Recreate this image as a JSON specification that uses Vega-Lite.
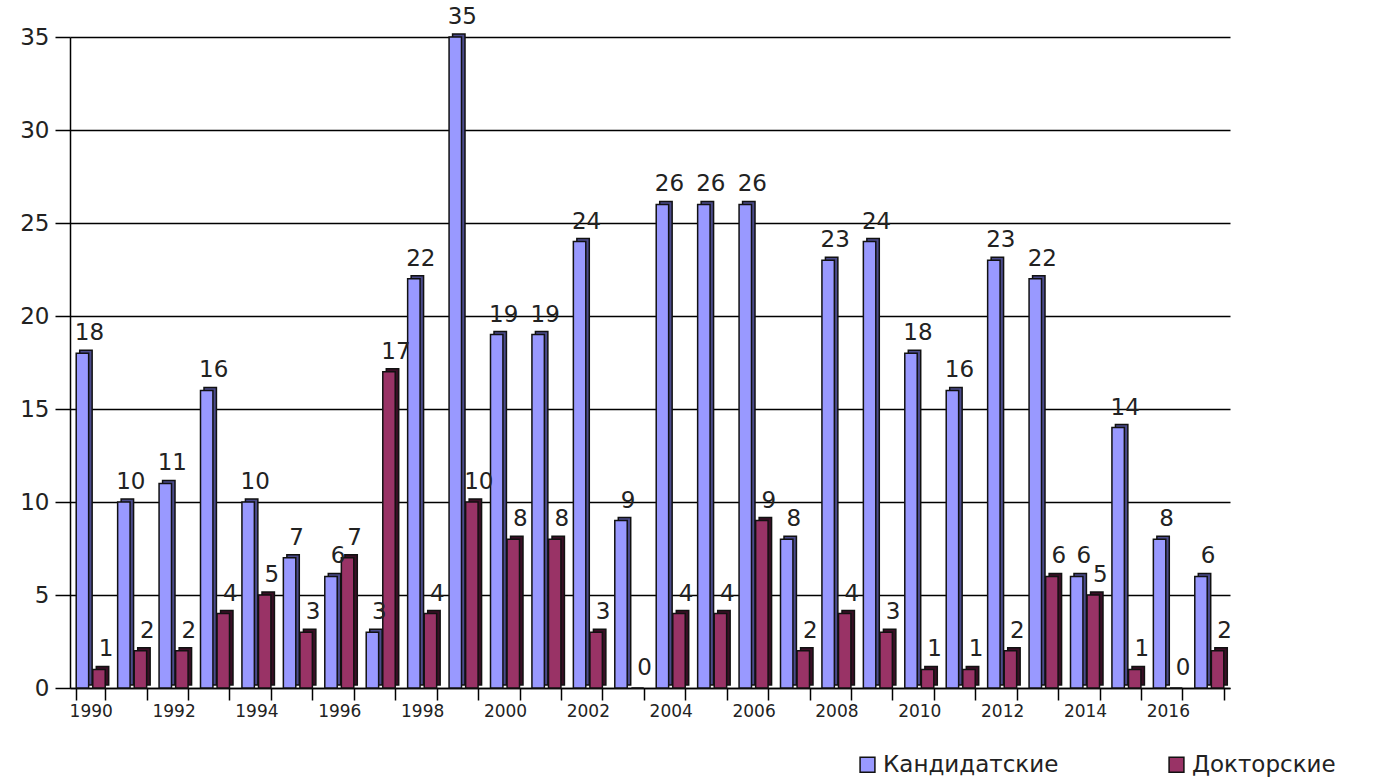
{
  "$schema": "https://vega.github.io/schema/vega-lite/v6.json",
  "autosize": {"type": "none"},
  "padding": {"left": 70, "top": 37, "right": 146, "bottom": 91},
  "width": 1160,
  "height": 651,
  "background": "white",
  "config": {
    "view": {"stroke": null},
    "font": "DejaVu Sans"
  },
  "data": {
    "values": [
      {"year": "1990", "type": "Кандидатские", "value": 18}, {"year": "1990", "type": "Докторские", "value": 1},
      {"year": "1991", "type": "Кандидатские", "value": 10}, {"year": "1991", "type": "Докторские", "value": 2},
      {"year": "1992", "type": "Кандидатские", "value": 11}, {"year": "1992", "type": "Докторские", "value": 2},
      {"year": "1993", "type": "Кандидатские", "value": 16}, {"year": "1993", "type": "Докторские", "value": 4},
      {"year": "1994", "type": "Кандидатские", "value": 10}, {"year": "1994", "type": "Докторские", "value": 5},
      {"year": "1995", "type": "Кандидатские", "value": 7}, {"year": "1995", "type": "Докторские", "value": 3},
      {"year": "1996", "type": "Кандидатские", "value": 6}, {"year": "1996", "type": "Докторские", "value": 7},
      {"year": "1997", "type": "Кандидатские", "value": 3}, {"year": "1997", "type": "Докторские", "value": 17},
      {"year": "1998", "type": "Кандидатские", "value": 22}, {"year": "1998", "type": "Докторские", "value": 4},
      {"year": "1999", "type": "Кандидатские", "value": 35}, {"year": "1999", "type": "Докторские", "value": 10},
      {"year": "2000", "type": "Кандидатские", "value": 19}, {"year": "2000", "type": "Докторские", "value": 8},
      {"year": "2001", "type": "Кандидатские", "value": 19}, {"year": "2001", "type": "Докторские", "value": 8},
      {"year": "2002", "type": "Кандидатские", "value": 24}, {"year": "2002", "type": "Докторские", "value": 3},
      {"year": "2003", "type": "Кандидатские", "value": 9}, {"year": "2003", "type": "Докторские", "value": 0},
      {"year": "2004", "type": "Кандидатские", "value": 26}, {"year": "2004", "type": "Докторские", "value": 4},
      {"year": "2005", "type": "Кандидатские", "value": 26}, {"year": "2005", "type": "Докторские", "value": 4},
      {"year": "2006", "type": "Кандидатские", "value": 26}, {"year": "2006", "type": "Докторские", "value": 9},
      {"year": "2007", "type": "Кандидатские", "value": 8}, {"year": "2007", "type": "Докторские", "value": 2},
      {"year": "2008", "type": "Кандидатские", "value": 23}, {"year": "2008", "type": "Докторские", "value": 4},
      {"year": "2009", "type": "Кандидатские", "value": 24}, {"year": "2009", "type": "Докторские", "value": 3},
      {"year": "2010", "type": "Кандидатские", "value": 18}, {"year": "2010", "type": "Докторские", "value": 1},
      {"year": "2011", "type": "Кандидатские", "value": 16}, {"year": "2011", "type": "Докторские", "value": 1},
      {"year": "2012", "type": "Кандидатские", "value": 23}, {"year": "2012", "type": "Докторские", "value": 2},
      {"year": "2013", "type": "Кандидатские", "value": 22}, {"year": "2013", "type": "Докторские", "value": 6},
      {"year": "2014", "type": "Кандидатские", "value": 6}, {"year": "2014", "type": "Докторские", "value": 5},
      {"year": "2015", "type": "Кандидатские", "value": 14}, {"year": "2015", "type": "Докторские", "value": 1},
      {"year": "2016", "type": "Кандидатские", "value": 8}, {"year": "2016", "type": "Докторские", "value": 0},
      {"year": "2017", "type": "Кандидатские", "value": 6}, {"year": "2017", "type": "Докторские", "value": 2}
    ]
  },
  "encoding": {
    "x": {
      "field": "year",
      "type": "ordinal",
      "title": null,
      "scale": {"paddingInner": 0.3, "paddingOuter": 0.15},
      "axis": {
        "tickBand": "extent",
        "labelAngle": 0,
        "labelExpr": "toNumber(datum.value) % 2 == 0 ? datum.value : ''",
        "labelFontSize": 17,
        "labelColor": "#222",
        "labelPadding": 3,
        "tickSize": 12,
        "tickColor": "black",
        "tickWidth": 1.5,
        "domainColor": "black",
        "domainWidth": 1.5,
        "grid": false
      }
    },
    "y": {
      "field": "value",
      "type": "quantitative",
      "title": null,
      "scale": {"domain": [0, 35], "nice": false},
      "axis": {
        "values": [0, 5, 10, 15, 20, 25, 30, 35],
        "labelFontSize": 23,
        "labelColor": "#222",
        "labelPadding": 6,
        "tickSize": 15,
        "tickColor": "black",
        "tickWidth": 1.5,
        "domainColor": "black",
        "domainWidth": 1.5,
        "grid": true,
        "gridColor": "black",
        "gridWidth": 1.5
      }
    }
  },
  "layer": [
    {
      "description": "depth side of each bar, drawn behind the face",
      "transform": [{"filter": "datum.value > 0"}],
      "mark": {"type": "bar", "yOffset": -3, "stroke": "#111", "strokeWidth": 1.5},
      "encoding": {
        "xOffset": {"field": "type", "type": "nominal", "sort": ["Кандидатские", "Докторские"], "scale": {"paddingInner": 0.25, "paddingOuter": 0, "range": [3.5, 32.5]}},
        "fill": {
          "condition": {"test": "datum.type === 'Кандидатские'", "value": "#4B4B8C"},
          "value": "#3A0F26"
        }
      }
    },
    {
      "encoding": {
        "xOffset": {"field": "type", "type": "nominal", "sort": ["Кандидатские", "Докторские"], "scale": {"paddingInner": 0.25, "paddingOuter": 0}}
      },
      "layer": [
        {
          "mark": {"type": "bar", "stroke": "#111", "strokeWidth": 1.5},
          "encoding": {
            "color": {
              "field": "type",
              "type": "nominal",
              "scale": {"domain": ["Кандидатские", "Докторские"], "range": ["#9999FF", "#993366"]},
              "legend": {
                "title": null,
                "orient": "none",
                "direction": "horizontal",
                "legendX": 786,
                "legendY": 716,
                "symbolType": "square",
                "symbolSize": 220,
                "symbolStrokeColor": "#111",
                "symbolStrokeWidth": 1.5,
                "labelFontSize": 23,
                "labelColor": "#222",
                "labelOffset": 4,
                "columnPadding": 106,
                "labelLimit": 400
              }
            }
          }
        },
        {
          "mark": {"type": "text", "baseline": "middle", "dy": -20, "dx": 7, "fontSize": 23, "color": "#222"},
          "encoding": {
            "text": {"field": "value", "type": "quantitative"}
          }
        }
      ]
    }
  ],
  "resolve": {"scale": {"xOffset": "independent"}}
}
